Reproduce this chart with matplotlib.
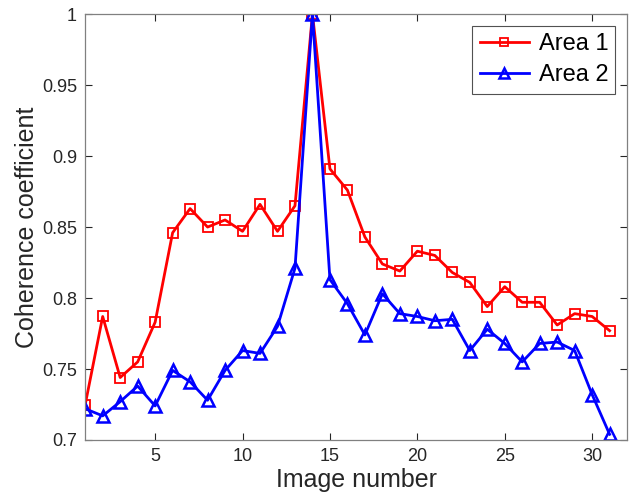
import matplotlib
matplotlib.use("Agg")
import matplotlib.pyplot as plt

plt.rcParams['font.family'] = ['Liberation Sans', 'DejaVu Sans']

# data
image_no = list(range(1, 32))
area1 = [0.725, 0.787, 0.744, 0.755, 0.783, 0.846, 0.863, 0.850, 0.855, 0.847,
         0.866, 0.847, 0.865, 1.000, 0.891, 0.876, 0.843, 0.824, 0.819, 0.833,
         0.830, 0.818, 0.811, 0.794, 0.808, 0.797, 0.797, 0.781, 0.789, 0.787,
         0.777]
area2 = [0.722, 0.717, 0.727, 0.738, 0.724, 0.749, 0.741, 0.728, 0.749, 0.763,
         0.761, 0.780, 0.821, 1.000, 0.813, 0.796, 0.774, 0.803, 0.789, 0.787,
         0.784, 0.785, 0.763, 0.778, 0.768, 0.755, 0.768, 0.769, 0.763, 0.732,
         0.704]

fig = plt.figure(figsize=(6.36, 5.04), dpi=100)
ax = fig.add_axes([0.134, 0.127, 0.852, 0.845])

ax.plot(image_no, area1, color='red', lw=2, marker='s', ms=7,
        mfc='none', mew=1.3, label='Area 1')
ax.plot(image_no, area2, color='blue', lw=2, marker='^', ms=8.5,
        mfc='none', mew=1.8, label='Area 2')

ax.set_xlim(1, 32)
ax.set_ylim(0.7, 1.0)
ax.set_xticks([5, 10, 15, 20, 25, 30])
ax.set_yticks([0.7, 0.75, 0.8, 0.85, 0.9, 0.95, 1.0])
ax.set_yticklabels(['0.7', '0.75', '0.8', '0.85', '0.9', '0.95', '1'])
ax.tick_params(direction='in', top=True, right=True, labelsize=13,
               colors='#262626', length=5, width=0.8, pad=6)
for s in ax.spines.values():
    s.set_color('#808080')
    s.set_linewidth(0.9)

ax.set_xlabel('Image number', fontsize=18, color='#262626', labelpad=2)
ax.set_ylabel('Coherence coefficient', fontsize=18, color='#262626', labelpad=2)

leg = ax.legend(loc='upper right', fontsize=17, fancybox=False,
                edgecolor='#262626', borderaxespad=0.5, handlelength=2.1,
                borderpad=0.3, labelspacing=0.4, handletextpad=0.4,
                markerscale=0.85)
leg.get_frame().set_linewidth(0.8)

fig.savefig('out.png', dpi=100)
